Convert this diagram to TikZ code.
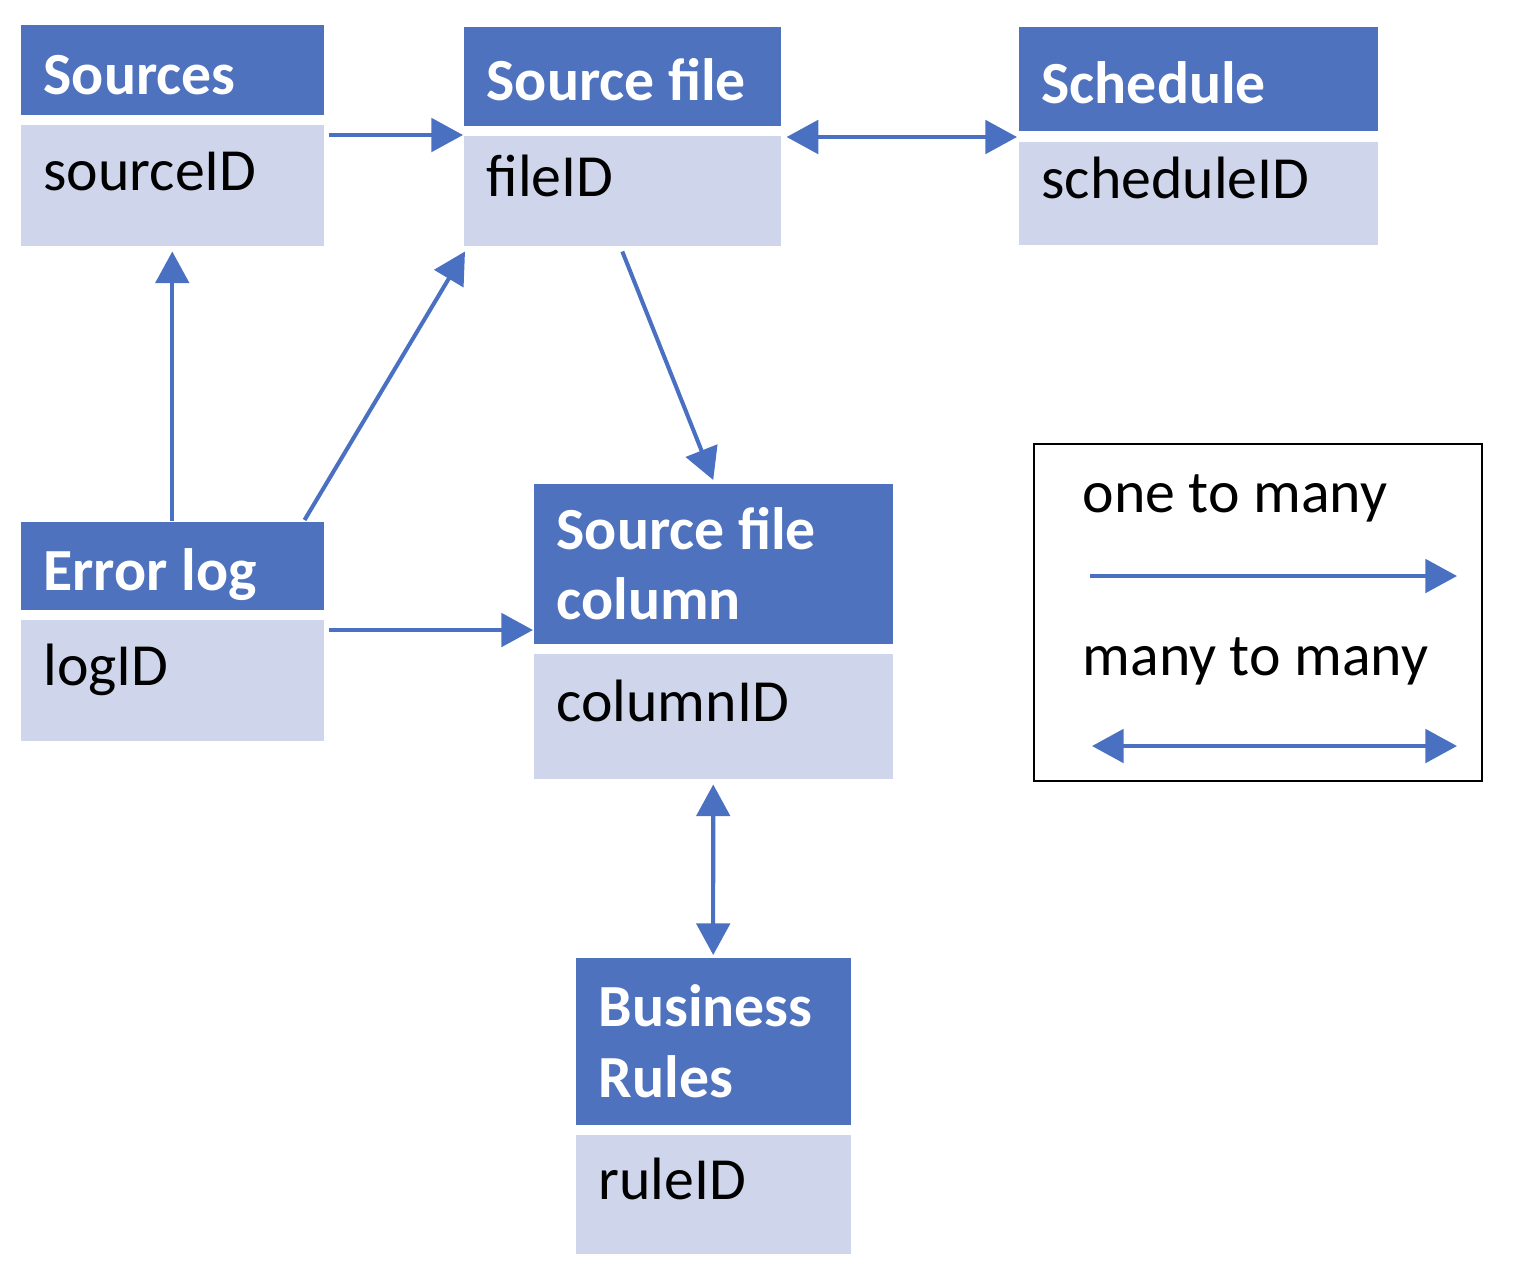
\documentclass[tikz,border=0pt]{standalone}
\usepackage{fontspec}
\setmainfont{Carlito}
\usetikzlibrary{calc,arrows.meta}
\definecolor{hdrblue}{HTML}{4F72BE}
\definecolor{rowfill}{HTML}{CFD5EA}
\definecolor{linkblue}{HTML}{4A70C2}

\begin{document}
\begin{tikzpicture}[x=0.01cm,y=-0.01cm,
		hdr/.style={anchor=north west,fill=hdrblue,text=white,font=\fontsize{17}{20}\selectfont\bfseries,align=flush left,inner xsep=6.5pt,inner ysep=0pt},
		hdrone/.style={hdr,text height=14pt,text depth=0pt},
		row/.style={anchor=north west,fill=rowfill,font=\fontsize{17}{20}\selectfont,align=flush left,inner xsep=6.5pt,inner ysep=0pt,text height=11pt,text depth=8pt},
		link/.style={draw=linkblue,line width=1.15pt,-{Triangle[length=9pt,width=9.5pt]}},
		both/.style={draw=linkblue,line width=1.15pt,{Triangle[length=9pt,width=9.5pt]}-{Triangle[length=9pt,width=9.5pt]}}]
			\useasboundingbox (0,0) rectangle (1528,1284);
			
			% tables
			\node[hdrone,text width=73.2pt,minimum height=0.90cm] (srcH)at(20,24) {Sources};
			\node[row,text width=73.2pt,minimum height=1.21cm] (srcB)at(20,124) {sourceID};
			\node[hdrone,text width=77.2pt,minimum height=0.99cm] (fileH)at(463,26) {Source file};
			\node[row,text width=77.2pt,minimum height=1.10cm] (fileB)at(463,135) {fileID};
			\node[hdrone,text width=89.1pt,minimum height=1.04cm] (schedH)at(1018,26) {Schedule};
			\node[row,text width=89.1pt,minimum height=1.03cm] (schedB)at(1018,141) {scheduleID};
			\node[hdrone,text width=73.2pt,minimum height=0.88cm] (errH)at(20,521) {Error log};
			\node[row,text width=73.2pt,minimum height=1.21cm] (errB)at(20,619) {logID};
			\node[hdr,text width=89.1pt,minimum height=1.60cm] (colH)at(533,483) {Source file\\column};
			\node[row,text width=89.1pt,minimum height=1.25cm] (colB)at(533,653) {columnID};
			\node[hdr,text width=65.2pt,minimum height=1.67cm] (ruleH)at(575,957) {Business\\Rules};
			\node[row,text width=65.2pt,minimum height=1.19cm] (ruleB)at(575,1134) {ruleID};
			
			% links
			\coordinate (errOut) at ($(errB.north east)+(4,11)$);
			\draw[link] ($(srcB.north east)+(4,11)$) -- (fileB.north west);
			\draw[both] ($(fileB.north east)+(5,2)$) -- ($(schedB.north west)+(-1,-4)$);
			\draw[link] (errH.north) -- ($(srcB.south)+(0,5)$);
			\draw[link] ($(errH.north east)+(-20,-1)$) -- ($(fileB.south west)+(2,5)$);
			\draw[link] ($(fileB.south)+(0,5)$) -- ($(colH.north)+(0,-3)$);
			\draw[link] (errOut) -- (errOut -| colH.west);
			\draw[both] ($(colB.south)+(0,5)$) -- ($(ruleH.north)+(0,-2)$);
			
			% legend
			\node[draw=black,line width=0.6pt,anchor=north west,minimum width=4.48cm,minimum height=3.37cm,inner sep=0pt] (legend)at(1033,443) {};
			\node[anchor=base west,inner sep=0pt,font=\fontsize{17}{20}\selectfont] (one)at(1082,512) {one to many};
			\node[anchor=base west,inner sep=0pt,font=\fontsize{17}{20}\selectfont] (many)at(1082,675) {many to many};
			\coordinate (oneA)at(1090,576);
			\coordinate (oneB)at(1457,576);
			\coordinate (manyA)at(1092,746);
			\coordinate (manyB)at(1457,746);
			\draw[link] (oneA) -- (oneB);
			\draw[both] (manyA) -- (manyB);
		\end{tikzpicture}
\end{document}
